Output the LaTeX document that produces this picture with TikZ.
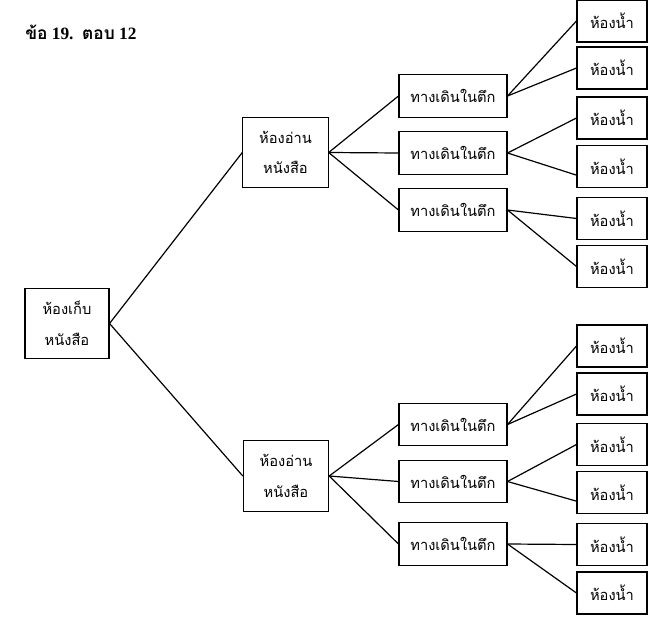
\documentclass[tikz,border=0pt]{standalone}
\usepackage{fontspec}
\setmainfont{Liberation Serif}
\newfontfamily\thaifont[Script=Thai]{Loma}
\usetikzlibrary{positioning}

\tikzset{
    room/.style={draw,line width=0.8pt,inner sep=0pt,align=center,
        font=\thaifont\fontsize{11}{23}\selectfont},
    rootbox/.style={room,minimum width=63pt,minimum height=52pt},
    readbox/.style={room,minimum width=64pt,minimum height=53pt},
    walkbox/.style={room,minimum width=81pt,minimum height=32pt},
    wcbox/.style={room,minimum width=52.5pt,minimum height=31.5pt},
    link/.style={line width=0.9pt}
}

\begin{document}
\begin{tikzpicture}[x=0.75pt,y=-0.75pt]
    \useasboundingbox (0,0) rectangle (664,624);
    %Title
    \node[anchor=west,inner sep=0pt,font=\bfseries\fontsize{13}{15}\selectfont] (title) at (25,32) {{\thaifont ข้อ} 19.\ \ {\thaifont ตอบ} 12};
    %Storage
    \node[rootbox] (store) at (67,323.5) {ห้องเก็บ\\หนังสือ};
    %Reading rooms
    \node[readbox] (readA) at (285.5,152.5) {ห้องอ่าน\\หนังสือ};
    \node[readbox] (readB) at (286,476) {ห้องอ่าน\\หนังสือ};
    %Walkways
    \node[walkbox] (walkA) at (453,96) {ทางเดินในตึก};
    \node[walkbox] (walkB) at (453,153) {ทางเดินในตึก};
    \node[walkbox] (walkC) at (453,210) {ทางเดินในตึก};
    \node[walkbox] (walkD) at (453,424.5) {ทางเดินในตึก};
    \node[walkbox] (walkE) at (453,481.5) {ทางเดินในตึก};
    \node[walkbox] (walkF) at (453,544) {ทางเดินในตึก};
    %Toilets
    \node[wcbox] (wcA) at (612,21) {ห้องน้ำ};
    \node[wcbox] (wcB) at (612,68) {ห้องน้ำ};
    \node[wcbox] (wcC) at (612,118) {ห้องน้ำ};
    \node[wcbox] (wcD) at (612,166.5) {ห้องน้ำ};
    \node[wcbox] (wcE) at (612,218.5) {ห้องน้ำ};
    \node[wcbox] (wcF) at (612,266.5) {ห้องน้ำ};
    \node[wcbox] (wcG) at (612,346) {ห้องน้ำ};
    \node[wcbox] (wcH) at (612,394) {ห้องน้ำ};
    \node[wcbox] (wcI) at (612,444.5) {ห้องน้ำ};
    \node[wcbox] (wcJ) at (612,492.5) {ห้องน้ำ};
    \node[wcbox] (wcK) at (612,544.5) {ห้องน้ำ};
    \node[wcbox] (wcL) at (612,593) {ห้องน้ำ};
    %Links
    \draw[link] (store.east) -- (readA.west);
    \draw[link] (store.east) -- (readB.west);
    \draw[link] (readA.east) -- (walkA.west);
    \draw[link] (readA.east) -- (walkB.west);
    \draw[link] (readA.east) -- (walkC.west);
    \draw[link] (readB.east) -- (walkD.west);
    \draw[link] (readB.east) -- (walkE.west);
    \draw[link] (readB.east) -- (walkF.west);
    \draw[link] (walkA.east) -- (wcA.west);
    \draw[link] (walkA.east) -- (wcB.west);
    \draw[link] (walkB.east) -- (wcC.west);
    \draw[link] (walkB.east) -- ([yshift=-6.5pt]wcD.west);
    \draw[link] (walkC.east) -- (wcE.west);
    \draw[link] (walkC.east) -- (wcF.west);
    \draw[link] (walkD.east) -- (wcG.west);
    \draw[link] (walkD.east) -- (wcH.west);
    \draw[link] (walkE.east) -- (wcI.west);
    \draw[link] (walkE.east) -- ([yshift=-6.5pt]wcJ.west);
    \draw[link] (walkF.east) -- (wcK.west);
    \draw[link] (walkF.east) -- (wcL.west);
\end{tikzpicture}
\end{document}
